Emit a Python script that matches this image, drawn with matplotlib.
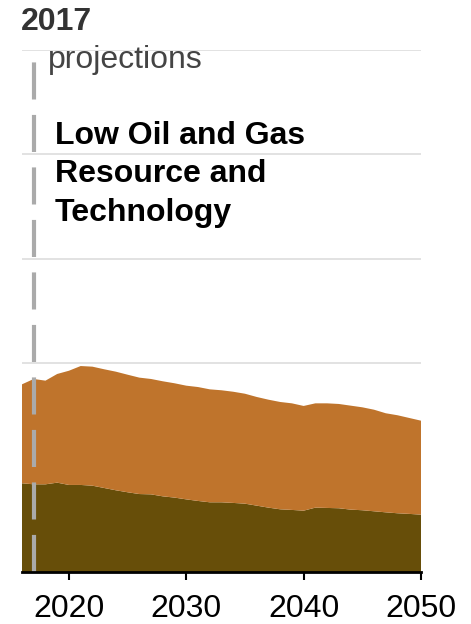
import numpy as np
import matplotlib
matplotlib.use("Agg")
import matplotlib.pyplot as plt

plt.rcParams['font.family'] = ['Liberation Sans', 'DejaVu Sans']

# values (arbitrary units, gridline spacing = 1)
years = list(range(2016, 2051))
lower = [0.849, 0.839, 0.839, 0.855, 0.833, 0.833, 0.826, 0.804, 0.782, 0.763,
         0.746, 0.743, 0.724, 0.712, 0.695, 0.680, 0.667, 0.667, 0.661, 0.654,
         0.635, 0.616, 0.600, 0.594, 0.587, 0.616, 0.613, 0.610, 0.597, 0.591,
         0.581, 0.571, 0.562, 0.556, 0.549]
total = [1.796, 1.847, 1.831, 1.895, 1.926, 1.971, 1.965, 1.940, 1.917, 1.888,
         1.860, 1.847, 1.825, 1.806, 1.783, 1.770, 1.748, 1.739, 1.725, 1.706,
         1.675, 1.649, 1.627, 1.614, 1.589, 1.614, 1.614, 1.608, 1.592, 1.576,
         1.553, 1.519, 1.500, 1.474, 1.448]
upper = [t - l for t, l in zip(total, lower)]
xticks = [2020, 2030, 2040, 2050]
gridlines = [1, 2, 3, 4, 5]
proj_year = 2017

W, H = 471, 624
fig = plt.figure(figsize=(W / 100, H / 100), dpi=100)
ax = fig.add_axes([22 / W, (H - 572) / H, (421 - 22) / W, (572 - 49.5) / H])

for g in gridlines:
    ax.axhline(g, color='#dddddd', lw=1.2, zorder=0)

ax.stackplot(years, lower, upper, colors=['#674e09', '#bf742c'], lw=0, zorder=1)

# projection divider
ax.plot([proj_year, proj_year], [0, 5], color='#aaaaaa', lw=3,
        ls=(0, (8.9, 3.7)), zorder=3, solid_capstyle='butt')

ax.set_xlim(2016, 2050)
ax.set_ylim(0, 5)
for s in ['left', 'right', 'top']:
    ax.spines[s].set_visible(False)
ax.spines['bottom'].set_linewidth(2)
ax.spines['bottom'].set_zorder(4)
ax.set_yticks([])
ax.set_xticks(xticks)
ax.set_xticklabels([str(x) for x in xticks])
ax.tick_params(axis='x', length=6, width=1.5, labelsize=23, pad=10, colors='black')

fig.text(21 / W, 1 - 30 / H, '2017', fontsize=23, fontweight='bold', color='#333333')
fig.text(48 / W, 1 - 68 / H, 'projections', fontsize=23, color='#444444')
title_lines = ['Low Oil and Gas', 'Resource and', 'Technology']
for i, t in enumerate(title_lines):
    fig.text(55 / W, 1 - (144 + 38.5 * i) / H, t, fontsize=23, fontweight='bold',
             color='black')

fig.savefig('out.png', dpi=100)
